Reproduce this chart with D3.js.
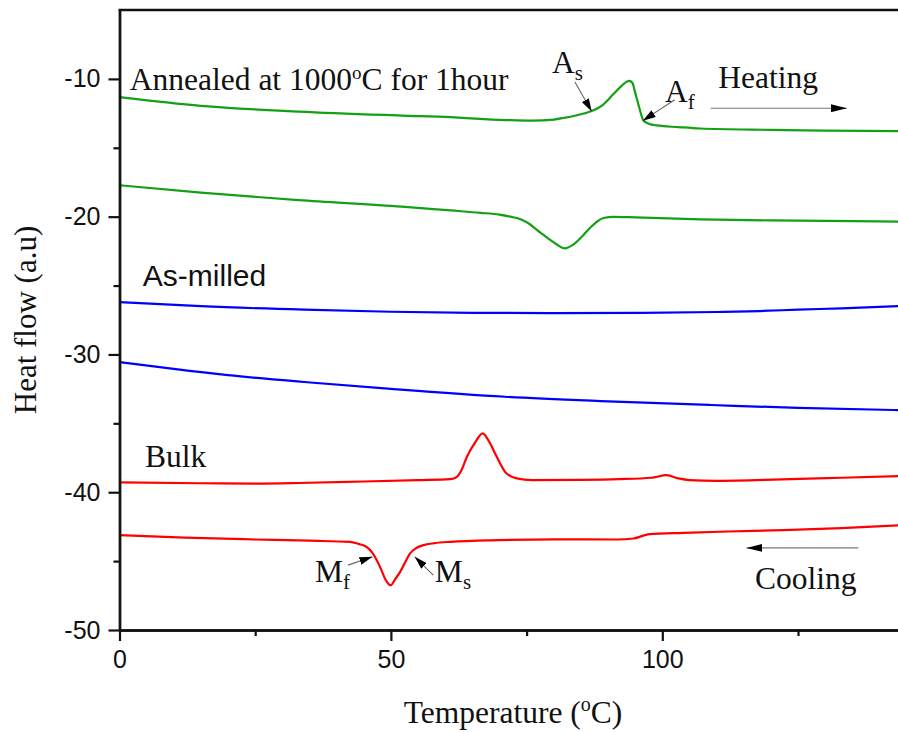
<!DOCTYPE html>
<html>
<head>
<meta charset="utf-8">
<script src="https://cdn.jsdelivr.net/npm/d3@7"></script>
<style>
  html, body { margin: 0; padding: 0; background: #fff; }
  svg { display: block; }
</style>
</head>
<body>
<svg id="chart" width="898" height="732"></svg>
<script>
// ---- DSC traces: temperature (°C) and heat flow (a.u) ----
const annealedHeatT = [0, 15, 33, 52, 61, 66.4, 72, 76, 80, 82, 84.5, 86.7, 89, 91, 92.5, 93.9, 94.5, 95, 95.7, 96.5, 97.5, 99, 103, 107, 120, 130, 145];
const annealedHeatV = [-11.33, -11.96, -12.37, -12.66, -12.78, -12.9, -13.0, -13.03, -12.95, -12.82, -12.62, -12.37, -11.9, -11.1, -10.5, -10.15, -10.3, -11.0, -12.0, -13.0, -13.25, -13.38, -13.5, -13.6, -13.7, -13.76, -13.8];

const annealedCoolT = [0, 15, 33, 52, 61, 66.5, 70, 72, 74, 75.6, 77, 78.7, 80.5, 82, 83.5, 84.8, 86, 87, 88, 89.2, 91, 95, 107, 120, 135, 145];
const annealedCoolV = [-17.72, -18.26, -18.8, -19.27, -19.55, -19.72, -19.85, -20.0, -20.2, -20.55, -21.0, -21.5, -22.0, -22.3, -22.05, -21.6, -21.1, -20.7, -20.35, -20.1, -20.02, -20.05, -20.19, -20.27, -20.33, -20.36];

const milledHeatT = [0, 15, 34, 50, 65, 80, 95, 110, 118, 125, 133, 145];
const milledHeatV = [-26.2, -26.5, -26.75, -26.9, -26.98, -27.0, -26.98, -26.92, -26.85, -26.75, -26.65, -26.47];

const milledCoolT = [0, 10, 20, 34, 50, 71, 90, 109, 125, 145];
const milledCoolV = [-30.55, -31.05, -31.5, -32.0, -32.5, -33.07, -33.4, -33.67, -33.88, -34.05];

const bulkHeatT = [0, 15, 25, 33, 45, 55, 61, 62.1, 63, 64, 65.5, 66.9, 68.2, 69.5, 71.3, 73.2, 76, 85, 92, 98, 100.8, 103, 105, 110, 122, 133, 145];
const bulkHeatV = [-39.29, -39.35, -39.37, -39.33, -39.22, -39.12, -39.05, -38.9, -38.4, -37.43, -36.4, -35.73, -36.4, -37.43, -38.64, -39.0, -39.12, -39.1, -39.05, -38.95, -38.76, -39.0, -39.12, -39.17, -39.07, -38.95, -38.82];

const bulkCoolT = [0, 12, 25, 35, 42.5, 44, 45.5, 46.5, 47.4, 48.2, 48.9, 49.96, 50.8, 51.7, 52.6, 53.5, 54.7, 56, 58, 61, 70, 80, 91.6, 94.7, 96.5, 97.7, 103.9, 112, 122.3, 133, 145];
const bulkCoolV = [-43.12, -43.3, -43.43, -43.52, -43.6, -43.75, -43.96, -44.35, -44.93, -45.6, -46.26, -46.75, -46.3, -45.78, -45.1, -44.45, -44.05, -43.84, -43.7, -43.6, -43.48, -43.42, -43.43, -43.36, -43.15, -43.04, -42.95, -42.85, -42.75, -42.6, -42.38];

const xMajorTicks = [0, 50, 100];
const xMinorTicks = [25, 75, 125];
const yMajorTicks = [-50, -40, -30, -20, -10];
const yMinorTicks = [-45, -35, -25, -15];

const series = [
  { t: annealedHeatT, v: annealedHeatV, color: "#14a014" },
  { t: annealedCoolT, v: annealedCoolV, color: "#14a014" },
  { t: milledHeatT, v: milledHeatV, color: "#0000ff" },
  { t: milledCoolT, v: milledCoolV, color: "#0000ff" },
  { t: bulkHeatT, v: bulkHeatV, color: "#ff0000" },
  { t: bulkCoolT, v: bulkCoolV, color: "#ff0000" }
];

// ---- layout ----
const svg = d3.select("#chart");
const plotLeft = 119.5, plotTop = 10, plotBottom = 630;
const x = d3.scaleLinear().domain([0, 145]).range([plotLeft, plotLeft + 145 * 5.428]);
const y = d3.scaleLinear().domain([-50, -5]).range([plotBottom, plotTop]);

const serif = '"Liberation Serif", "Times New Roman", serif';
const sans = '"Liberation Sans", Arial, sans-serif';
const labelSize = "31.5px";

const defs = svg.append("defs");
defs.append("clipPath").attr("id", "plot")
  .append("rect").attr("x", plotLeft).attr("y", plotTop)
  .attr("width", x.range()[1] - plotLeft).attr("height", plotBottom - plotTop);

// arrow heads
function marker(id, w, h) {
  defs.append("marker").attr("id", id)
    .attr("viewBox", `0 0 ${w} ${h}`).attr("refX", w).attr("refY", h / 2)
    .attr("markerWidth", w).attr("markerHeight", h)
    .attr("markerUnits", "userSpaceOnUse").attr("orient", "auto")
    .append("path").attr("d", `M0,0L${w},${h / 2}L0,${h}Z`).attr("fill", "#000");
}
marker("headSmall", 13, 8);
marker("headLong", 16, 8);

// ---- curves ----
const line = d3.line().curve(d3.curveMonotoneX)
  .x(d => x(d[0])).y(d => y(d[1]));

svg.append("g").attr("clip-path", "url(#plot)")
  .selectAll("path").data(series).join("path")
  .attr("d", s => line(s.t.map((t, i) => [t, s.v[i]])))
  .attr("fill", "none")
  .attr("stroke", s => s.color)
  .attr("stroke-width", 2.2)
  .attr("stroke-linejoin", "round");

// ---- axes ----
const plain = d => String(d);
const yAxis = svg.append("g").attr("transform", `translate(${plotLeft},0)`)
  .call(d3.axisLeft(y).tickValues(yMajorTicks).tickFormat(plain).tickSize(11).tickSizeOuter(0).tickPadding(8));
const yMinor = svg.append("g").attr("transform", `translate(${plotLeft},0)`)
  .call(d3.axisLeft(y).tickValues(yMinorTicks).tickSize(6).tickSizeOuter(0).tickFormat(""));
const xAxis = svg.append("g").attr("transform", `translate(0,${plotBottom})`)
  .call(d3.axisBottom(x).tickValues(xMajorTicks).tickFormat(plain).tickSize(11).tickSizeOuter(0).tickPadding(9));
const xMinor = svg.append("g").attr("transform", `translate(0,${plotBottom})`)
  .call(d3.axisBottom(x).tickValues(xMinorTicks).tickSize(6).tickSizeOuter(0).tickFormat(""));

[yAxis, yMinor, xAxis, xMinor].forEach(g => {
  g.select(".domain").attr("stroke", "#111").attr("stroke-width", 2.4);
  g.selectAll(".tick line").attr("stroke", "#111").attr("stroke-width", 2.2);
  g.selectAll(".tick text").attr("fill", "#111").style("font-size", "25px").style("font-family", sans);
});

// top frame line
svg.append("line")
  .attr("x1", plotLeft - 1).attr("x2", x.range()[1])
  .attr("y1", plotTop).attr("y2", plotTop)
  .attr("stroke", "#111").attr("stroke-width", 2.4);

// ---- axis titles ----
const xTitle = svg.append("text")
  .attr("x", (x.range()[0] + x.range()[1]) / 2).attr("y", 723)
  .attr("text-anchor", "middle")
  .style("font-family", serif).style("font-size", "31.5px").attr("fill", "#111");
xTitle.append("tspan").text("Temperature (");
xTitle.append("tspan").text("o").style("font-size", "20px").attr("dy", "-12");
xTitle.append("tspan").text("C)").attr("dy", "12");

svg.append("text")
  .attr("transform", `translate(36,${(plotTop + plotBottom) / 2}) rotate(-90)`)
  .attr("text-anchor", "middle")
  .style("font-family", serif).style("font-size", "31px").attr("fill", "#111")
  .text("Heat flow (a.u)");

// ---- curve labels ----
const ann = svg.append("text")
  .attr("x", x(1.9)).attr("y", y(-10.8))
  .style("font-family", serif).style("font-size", labelSize).attr("fill", "#111");
ann.append("tspan").text("Annealed at 1000");
ann.append("tspan").text("o").style("font-size", "19px").attr("dy", "-11");
ann.append("tspan").text("C for 1hour").attr("dy", "11");

svg.append("text").attr("x", x(4.3)).attr("y", y(-25.03))
  .style("font-family", sans).style("font-size", "30px").attr("fill", "#111")
  .text("As-milled");

svg.append("text").attr("x", x(4.7)).attr("y", y(-38.16))
  .style("font-family", serif).style("font-size", labelSize).attr("fill", "#111")
  .text("Bulk");

// ---- transformation point labels ----
function subLabel(main, sub, t, v) {
  const el = svg.append("text").attr("x", x(t)).attr("y", y(v))
    .style("font-family", serif).style("font-size", labelSize).attr("fill", "#111");
  el.append("tspan").text(main);
  el.append("tspan").text(sub).style("font-size", "21px").attr("dy", "7");
}
subLabel("A", "s", 79.7, -9.56);
subLabel("A", "f", 100.5, -11.65);
subLabel("M", "f", 36.0, -46.5);
subLabel("M", "s", 58.1, -46.5);

function pointer(t1, v1, t2, v2, head, color, width) {
  svg.append("line")
    .attr("x1", x(t1)).attr("y1", y(v1)).attr("x2", x(t2)).attr("y2", y(v2))
    .attr("stroke", color).attr("stroke-width", width)
    .attr("marker-end", `url(#${head})`);
}
pointer(83.9, -10.22, 87.0, -12.37, "headSmall", "#666", 1.1);
pointer(102.3, -11.52, 96.4, -13.03, "headSmall", "#666", 1.1);
pointer(42.1, -45.29, 46.6, -44.69, "headSmall", "#666", 1.1);
pointer(57.8, -46.02, 54.4, -44.69, "headSmall", "#666", 1.1);

// heating / cooling direction arrows
svg.append("text").attr("x", x(110.3)).attr("y", y(-10.68))
  .style("font-family", serif).style("font-size", labelSize).attr("fill", "#111")
  .text("Heating");
pointer(108.9, -12.13, 134.0, -12.13, "headLong", "#777", 1.1);

svg.append("text").attr("x", x(117.1)).attr("y", y(-46.99))
  .style("font-family", serif).style("font-size", labelSize).attr("fill", "#111")
  .text("Cooling");
pointer(136.1, -44.04, 115.5, -44.04, "headLong", "#777", 1.1);
</script>
</body>
</html>
